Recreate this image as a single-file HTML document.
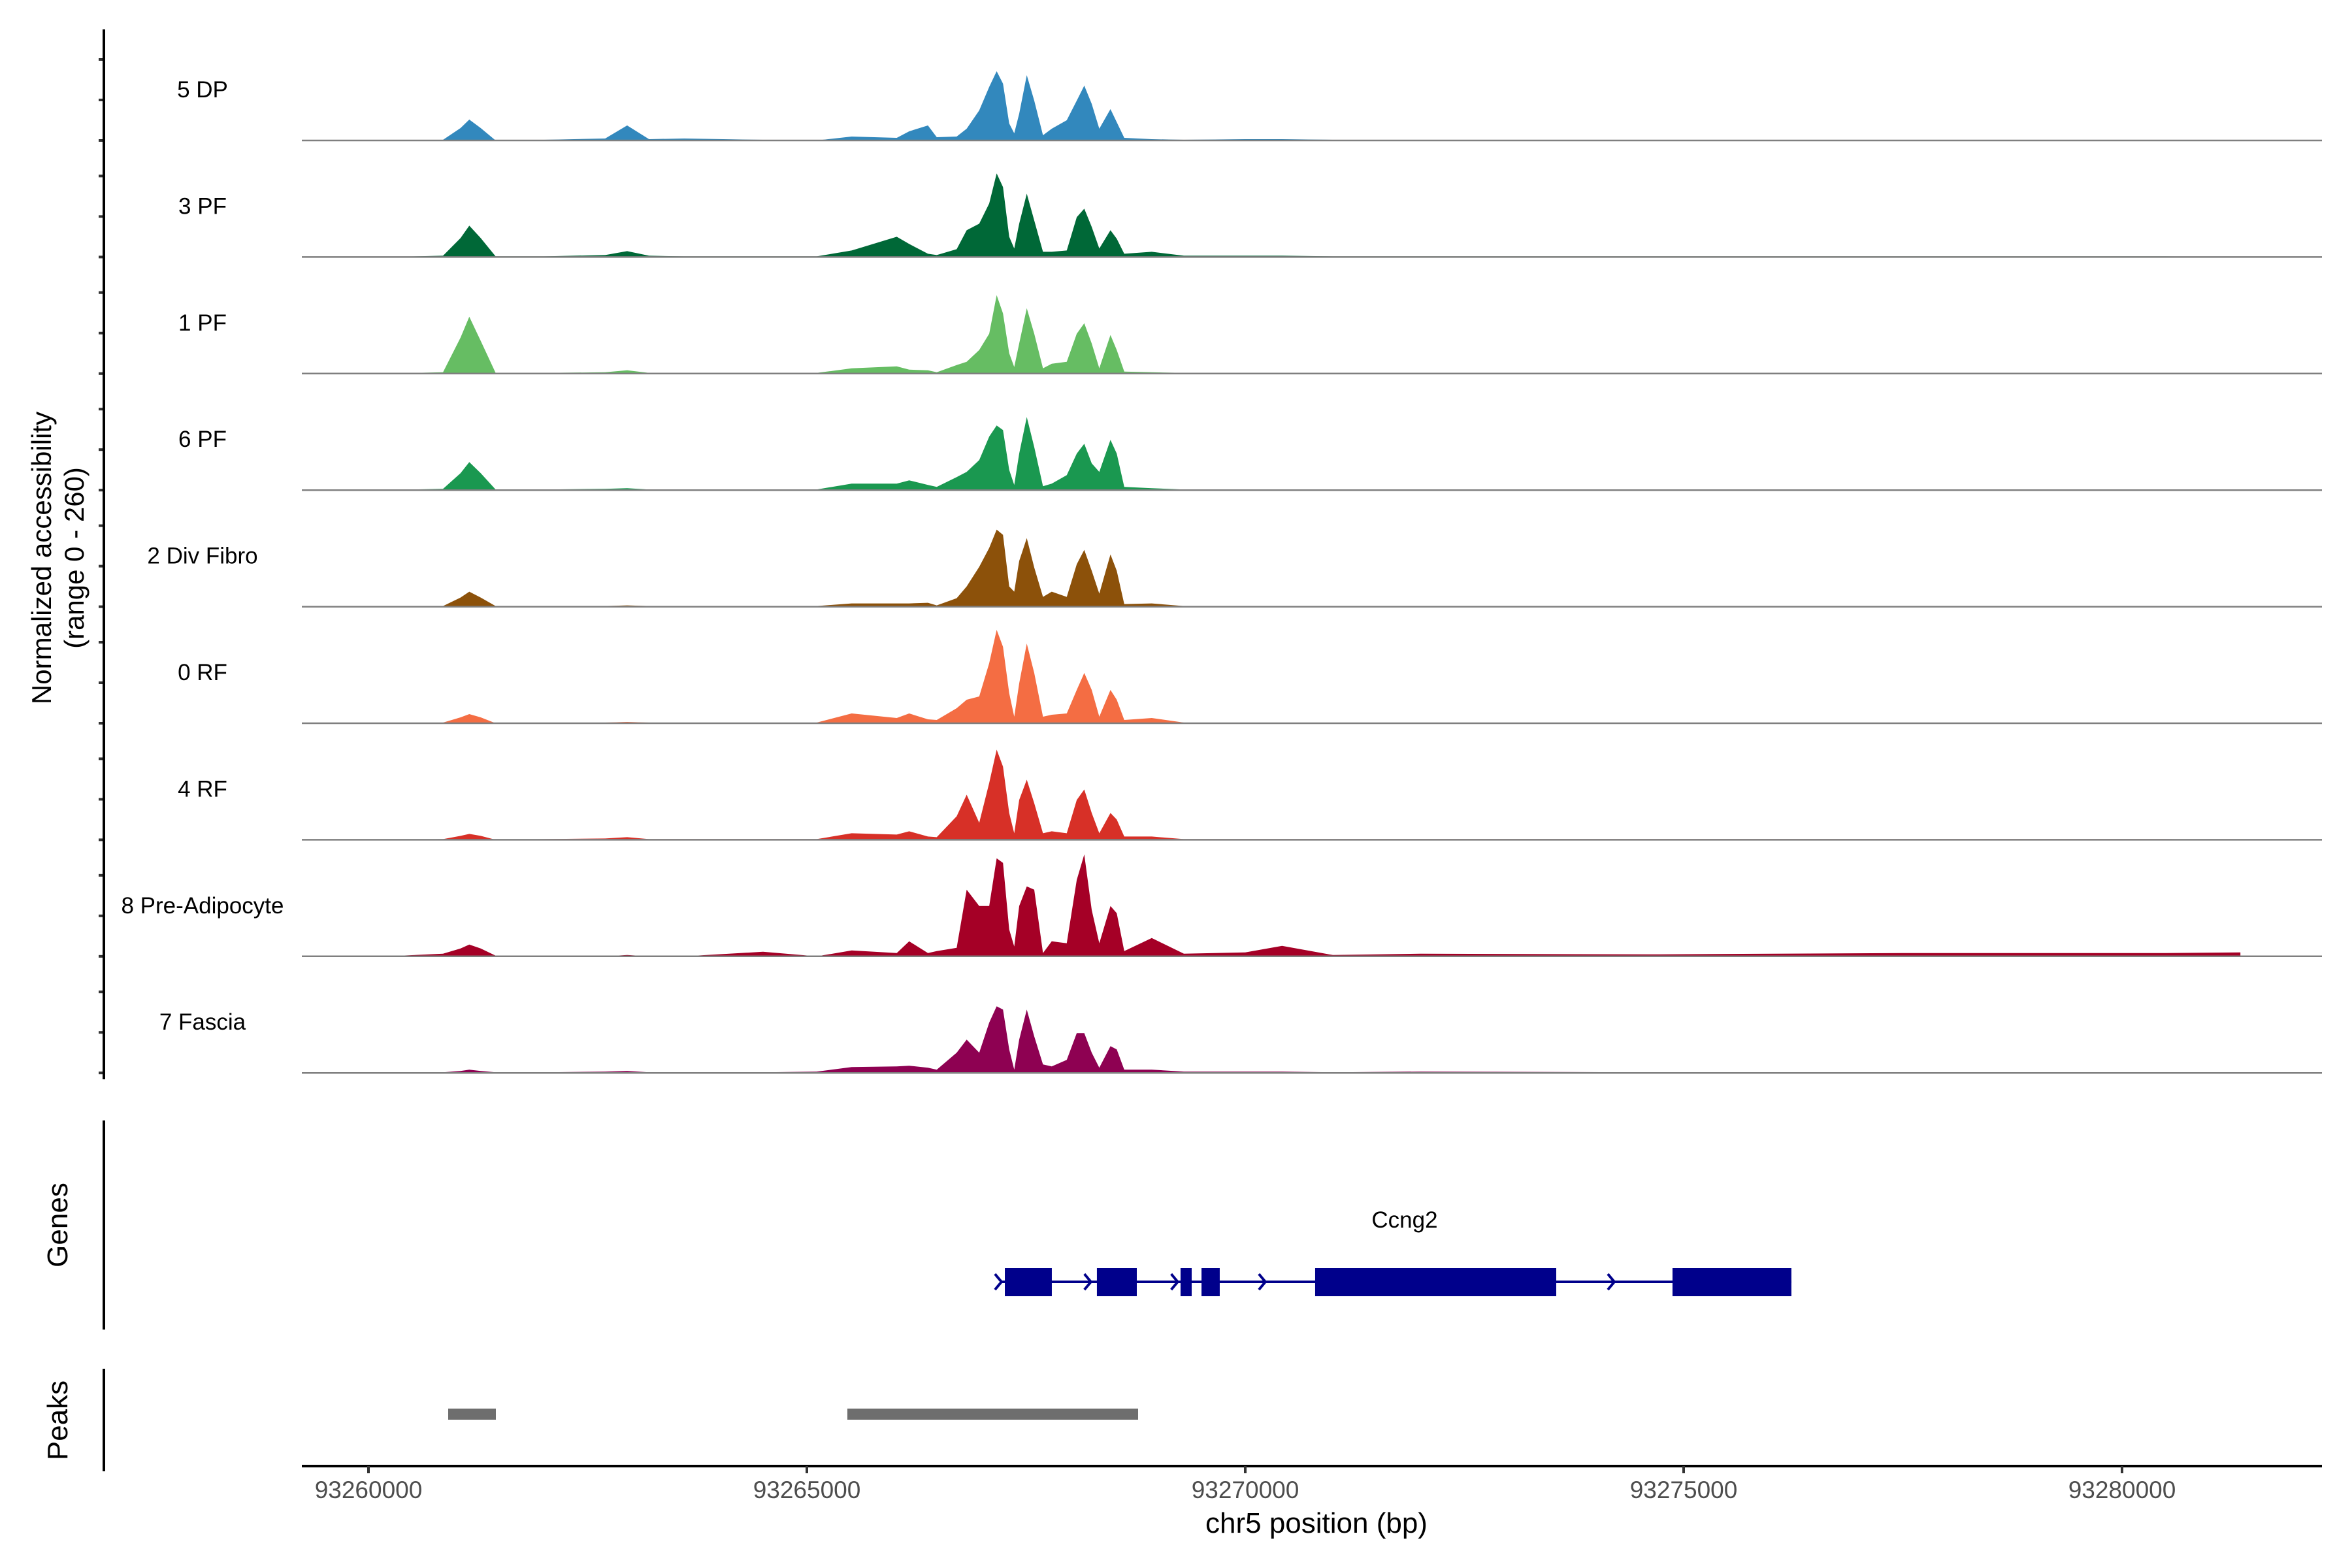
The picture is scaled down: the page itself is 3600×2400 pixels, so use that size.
<!DOCTYPE html>
<html><head><meta charset="utf-8"><style>
html,body{margin:0;padding:0;background:#fff}
svg{display:block}
text{font-family:"Liberation Sans",sans-serif}
</style></head><body>
<svg id="chart" width="3600" height="2400" viewBox="0 0 3600 2400" xmlns="http://www.w3.org/2000/svg">
<g id="tracks"></g>
<g id="axes"></g>
<text transform="translate(78,854) rotate(-90)" text-anchor="middle" font-size="42" fill="#000">Normalized accessibility</text>
<text transform="translate(128,854) rotate(-90)" text-anchor="middle" font-size="42" fill="#000">(range 0 - 260)</text>
<text transform="translate(103,1875) rotate(-90)" text-anchor="middle" font-size="44" fill="#000">Genes</text>
<text transform="translate(103,2174) rotate(-90)" text-anchor="middle" font-size="44" fill="#000">Peaks</text>
<text x="2015" y="2346" text-anchor="middle" font-size="44" fill="#000">chr5 position (bp)</text>
<text x="2150" y="1879" text-anchor="middle" font-size="35" fill="#000">Ccng2</text>
</svg>
<script>
const positions=[93260200,93260850,93261050,93261150,93261280,93261450,93262000,93262700,93262950,93263200,93263600,93264500,
93265112,93265511,93266025,93266167,93266381,93266481,93266709,93266823,93266966,93267080,93267165,93267237,93267308,93267365,93267422,93267508,93267593,93267693,93267793,93267964,93268078,93268164,93268249,93268335,93268463,93268534,93268620,93268934,
93269300,93270000,93270420,93271000,93272000,93274600,93277500,93280500,93281350];
const trackNames=["5 DP","3 PF","1 PF","6 PF","2 Div Fibro","0 RF","4 RF","8 Pre-Adipocyte","7 Fascia"];
const trackColors=["#3288bd","#006837","#66bd63","#1a9850","#8c510a","#f46d43","#d73027","#a50026","#8e0152"];
const dp5=[0,1,19,32,19,0,1,3,23,2,3,1,0,6,4,14,23,5,6,18,46,82,106,87,26,11,41,100,61,8,18,31,61,84,56,18,48,28,4,2,1,2,2,1,1,1,1,1,0];
const pf3=[0,2,29,48,29,1,1,3,9,2,1,1,1,10,31,20,5,3,12,41,51,82,128,107,31,13,51,97,56,8,8,10,61,74,46,13,41,28,5,8,2,2,2,1,1,1,1,1,0];
const pf1=[0,2,55,87,50,1,1,2,5,1,1,1,1,8,11,6,5,2,13,18,36,61,120,92,31,10,46,100,61,8,15,18,61,77,46,8,59,36,3,2,1,1,1,1,1,1,1,1,0];
const pf6=[0,2,26,43,26,1,1,2,3,1,1,1,1,10,10,15,8,5,20,28,46,82,99,92,31,8,56,112,66,6,10,23,56,71,41,28,77,56,5,3,1,1,1,1,1,1,1,1,0];
const divFibro2=[0,1,14,23,14,1,1,1,2,1,1,1,1,5,5,5,6,2,13,31,61,90,118,110,31,23,70,105,60,15,23,15,65,87,55,20,80,55,4,5,1,1,1,1,1,1,1,1,0];
const rf0=[0,1,9,14,9,0,1,1,2,1,1,1,1,15,8,15,6,5,23,36,41,92,143,117,46,10,61,122,77,10,13,15,51,77,51,10,51,36,5,8,1,1,1,1,1,1,1,1,0];
const rf4=[0,1,6,9,6,0,1,2,4,1,1,1,1,10,8,13,5,4,36,69,26,87,138,112,41,10,61,92,56,10,13,10,61,77,41,10,41,31,5,5,1,1,1,1,1,1,1,1,0];
const preAdipo8=[0,4,12,18,12,1,0,0,2,0,0,7,0,9,5,23,5,8,13,102,77,77,150,143,41,15,77,107,102,5,23,20,117,156,71,20,77,66,8,28,4,6,16,2,4,3,5,5,6];
const fascia7=[0,1,3,5,3,1,1,2,3,1,1,1,2,9,10,11,8,5,31,51,31,77,102,97,36,5,51,97,56,13,10,20,61,61,31,8,41,36,5,5,2,2,2,1,2,1,1,1,0];
const trackValues=[dp5,pf3,pf1,pf6,divFibro2,rf0,rf4,preAdipo8,fascia7];
const xTicks=[93260000,93265000,93270000,93275000,93280000];
const exonStarts=[93267258,93268308,93269262,93269501,93270797,93274873];
const exonEnds=[93267794,93268763,93269389,93269709,93273547,93276229];
const geneStart=93267210, geneEnd=93276229;
const arrowPos=[93267190,93268210,93269200,93270200,93274180];
const peakStarts=[93260909,93265462];
const peakEnds=[93261453,93268778];

const NS="http://www.w3.org/2000/svg";
const X0=564, PXBP=0.1342, PLOT_L=462, PLOT_R=3554;
function xs(bp){return X0+(bp-93260000)*PXBP;}
const BASE0=215, STEP=178.4, UNIT=1.0;
function ys(i,v){return BASE0+i*STEP - v*UNIT;}
function mk(tag,attrs,parent){const e=document.createElementNS(NS,tag);for(const k in attrs)e.setAttribute(k,attrs[k]);parent.appendChild(e);return e;}
const tracks=document.getElementById('tracks');
const axes=document.getElementById('axes');

for(let i=0;i<trackNames.length;i++){
  const g=mk('g',{},tracks);
  
  
  const vals=trackValues[i];
  const base=BASE0+i*STEP;
  let d='M'+xs(positions[0]).toFixed(1)+','+base;
  for(let j=0;j<positions.length;j++){d+=' L'+xs(positions[j]).toFixed(1)+','+ys(i,vals[j]).toFixed(1);}
  d+=' L'+xs(positions[positions.length-1]).toFixed(1)+','+base+' Z';
  const p=mk('path',{d:d,fill:trackColors[i]},g);
  
  
  const ln=mk('line',{x1:PLOT_L,x2:PLOT_R,y1:base,y2:base,stroke:'#7f7f7f','stroke-width':2.5},g);
  
  
  const t=mk('text',{x:310,y:base-66,'text-anchor':'middle','font-size':35,fill:'#000'},g);
  t.textContent=trackNames[i];
  
  
  for(const tv of [0,62,124]){
    const tk=mk('line',{x1:151,x2:159,y1:base-tv,y2:base-tv,stroke:'#333','stroke-width':4},axes);
    
    
  }
}
const yl=mk('line',{x1:159,x2:159,y1:45,y2:1652,stroke:'#000','stroke-width':4},axes);


const gl=mk('line',{x1:159,x2:159,y1:1715,y2:2035,stroke:'#000','stroke-width':4},axes);


const pl=mk('line',{x1:159,x2:159,y1:2095,y2:2252,stroke:'#000','stroke-width':4},axes);


const xl=mk('line',{x1:PLOT_L,x2:PLOT_R,y1:2244,y2:2244,stroke:'#000','stroke-width':4},axes);


for(const t of xTicks){
  const tk=mk('line',{x1:xs(t),x2:xs(t),y1:2244,y2:2255,stroke:'#333','stroke-width':4},axes);
  
  
  const lb=mk('text',{x:xs(t),y:2293,'text-anchor':'middle','font-size':37,fill:'#4d4d4d'},axes);
  lb.textContent=String(t);
  
  
}
const gg=mk('g',{},axes);


const gline=mk('line',{x1:xs(geneStart),x2:xs(geneEnd),y1:1962,y2:1962,stroke:'#00008b','stroke-width':4},gg);


for(const a of arrowPos){
  const ax=xs(a);
  const ar=mk('polyline',{points:(ax-6)+',1950 '+(ax+4)+',1962 '+(ax-6)+',1974',fill:'none',stroke:'#00008b','stroke-width':4},gg);
  
  
}
for(let k=0;k<exonStarts.length;k++){
  const r=mk('rect',{x:xs(exonStarts[k]),y:1941,width:xs(exonEnds[k])-xs(exonStarts[k]),height:43,fill:'#00008b'},gg);
  
  
}
for(let k=0;k<peakStarts.length;k++){
  const r=mk('rect',{x:xs(peakStarts[k]),y:2156,width:xs(peakEnds[k])-xs(peakStarts[k]),height:17,fill:'#6e6e6e'},axes);
  
  
}
</script>
</body></html>
